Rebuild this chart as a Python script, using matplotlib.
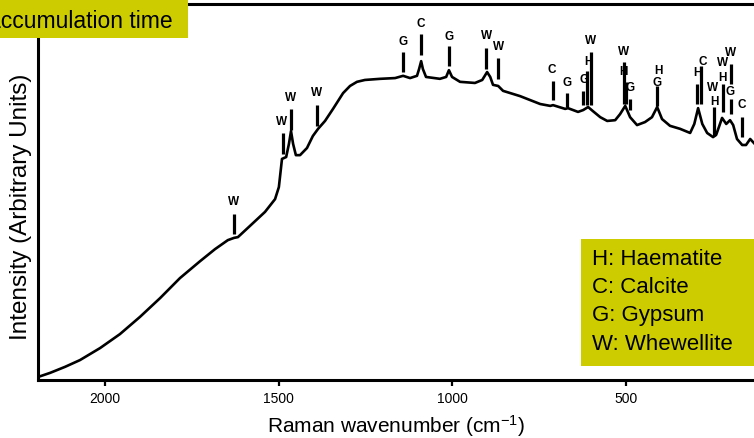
import matplotlib
matplotlib.use('Agg')
import matplotlib.pyplot as plt
from matplotlib.patches import Rectangle

plt.rcParams['font.family'] = ['Liberation Sans', 'DejaVu Sans']
plt.rcParams['mathtext.default'] = 'regular'

# spectrum (wavenumber in cm-1, intensity in arbitrary units)
wavenumber = [2193, 2158, 2115, 2072, 2014, 1957, 1899, 1841, 1784, 1726,
              1683, 1646, 1628, 1617, 1582, 1539, 1510, 1499, 1490, 1478,
              1470, 1464, 1458, 1450, 1438, 1418, 1401, 1386, 1366, 1343,
              1314, 1294, 1274, 1251, 1207, 1164, 1141, 1121, 1101, 1095,
              1089, 1084, 1075, 1035, 1017, 1009, 1000, 977, 934, 913,
              899, 890, 882, 867, 853, 804, 746, 717, 709, 674,
              666, 637, 622, 608, 594, 573, 553, 530, 516, 501,
              487, 467, 444, 424, 409, 395, 372, 343, 314, 302,
              291, 279, 265, 248, 239, 231, 222, 210, 199, 190,
              179, 164, 153, 141, 130]
intensity = [0.8, 1.9, 3.5, 5.3, 8.5, 12.2, 16.8, 21.8, 27.1, 31.6,
             34.8, 37.2, 37.8, 38.0, 41.0, 44.7, 48.1, 51.3, 58.8, 59.3,
             62.8, 66.2, 62.8, 59.8, 59.8, 61.7, 64.9, 66.8, 68.9, 72.1,
             76.3, 78.2, 79.3, 79.8, 80.1, 80.3, 80.9, 80.3, 80.9, 82.7,
             84.8, 82.7, 80.6, 80.1, 80.6, 82.4, 80.6, 79.3, 79.0, 79.8,
             81.9, 80.6, 78.5, 78.2, 76.9, 75.5, 73.4, 72.9, 73.1, 72.1,
             72.3, 71.3, 71.8, 72.6, 71.5, 69.9, 68.9, 69.1, 70.7, 72.9,
             69.9, 67.8, 68.6, 69.9, 72.6, 69.4, 67.6, 66.8, 65.7, 68.1,
             72.3, 68.1, 65.7, 64.6, 65.2, 67.3, 69.7, 68.1, 69.1, 67.8,
             64.1, 62.5, 62.5, 64.1, 63.0]

# peak marker bars
bar_wn = [1628, 1487, 1464, 1389, 1141, 1089, 1009, 902, 867, 709,
          669, 622, 611, 599, 504, 498, 487, 409, 294, 282,
          245, 219, 196, 196, 164]
bar_top = [44.1, 65.7, 72.1, 73.1, 87.2, 92.0, 88.8, 88.3, 85.6, 79.5,
           76.3, 76.9, 82.2, 87.2, 84.6, 79.3, 74.7, 78.2, 78.7, 83.5,
           72.6, 78.7, 84.0, 74.7, 69.9]
bar_bottom = [38.8, 60.1, 66.5, 67.6, 81.9, 86.4, 83.5, 82.7, 80.1, 74.5,
              72.6, 73.1, 73.1, 73.1, 73.4, 73.4, 71.8, 72.9, 73.4, 73.4,
              64.9, 71.3, 78.7, 70.7, 64.6]

# peak letters
label_wn = [1631, 1490, 1464, 1389, 1141, 1089, 1009, 902, 867, 712,
            669, 620, 608, 602, 507, 507, 487, 406, 409, 279,
            294, 248, 245, 222, 222, 199, 199, 164]
label_y = [47.6, 68.9, 75.3, 76.6, 90.2, 94.9, 91.5, 91.8, 88.8, 82.7,
           79.3, 80.1, 84.8, 90.4, 87.5, 82.2, 77.9, 82.4, 79.3, 84.8,
           81.9, 77.9, 74.2, 84.6, 80.6, 87.2, 76.9, 73.4]
label_text = ['W', 'W', 'W', 'W', 'G', 'C', 'G', 'W', 'W', 'C',
              'G', 'G', 'H', 'W', 'W', 'H', 'G', 'H', 'G', 'C',
              'H', 'W', 'H', 'W', 'H', 'W', 'G', 'C']

xticks = [2000, 1500, 1000, 500]
legend_lines = ['H: Haematite', 'C: Calcite', 'G: Gypsum', 'W: Whewellite']

fig = plt.figure(figsize=(7.54, 4.39), dpi=100)
ax = fig.add_axes([38 / 754, 58 / 439, 1 - 38 / 754, 376 / 439])

ax.plot(wavenumber, intensity, color='black', lw=1.9)
ax.vlines(bar_wn, bar_bottom, bar_top, color='black', lw=2.3)
for wn, y, t in zip(label_wn, label_y, label_text):
    ax.text(wn, y, t, ha='center', va='center', fontsize=8.5, fontweight='bold')

ax.set_xlim(2193, 130)
ax.set_ylim(0, 100)
ax.set_xticks(xticks)
ax.set_xticklabels([str(v) for v in xticks])
ax.set_yticks([])
ax.tick_params(axis='x', direction='out', length=4, width=1.6, labelsize=10, pad=4)
ax.spines['right'].set_visible(False)
for s in ['left', 'bottom', 'top']:
    ax.spines[s].set_linewidth(2.2)

ax.set_xlabel('Raman wavenumber (cm$^{-1}$)', fontsize=15, labelpad=5)
ax.set_ylabel('Intensity (Arbitrary Units)', fontsize=17.5)
ax.yaxis.set_label_coords(-0.008, 0.463)

# legend box (lower right)
fig.patches.append(Rectangle((581 / 754, 72 / 439), 1 - 581 / 754, 127 / 439,
                             transform=fig.transFigure, facecolor='#cccc00',
                             edgecolor='none', zorder=5))
fig.text(592 / 754, 190 / 439, '\n'.join(legend_lines), fontsize=16,
         ha='left', va='top', linespacing=1.45, zorder=6)

# title box (top left, clipped by the figure edge)
fig.patches.append(Rectangle((0, 400 / 439), 188 / 754, 39 / 439,
                             transform=fig.transFigure, facecolor='#cccc00',
                             edgecolor='none', zorder=5))
fig.text(173 / 754, 444 / 439, '(exposure),', fontsize=16.5,
         ha='right', va='baseline', zorder=6)
fig.text(173 / 754, 411 / 439, 'accumulation time', fontsize=16.5,
         ha='right', va='baseline', zorder=6)

fig.savefig('out.png', dpi=100)
